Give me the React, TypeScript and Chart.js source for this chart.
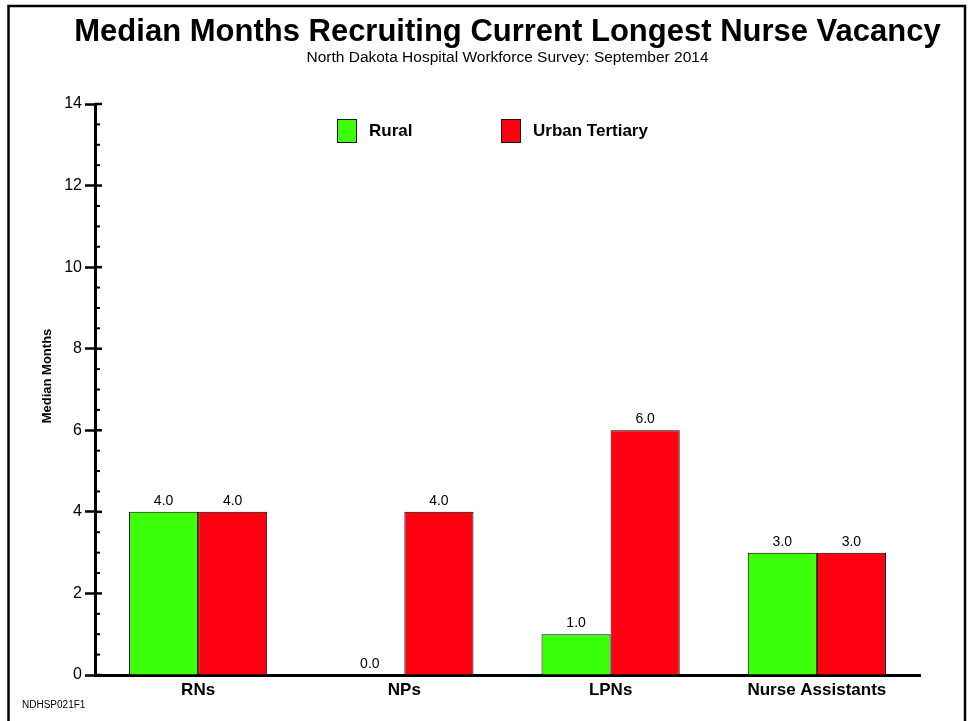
import React, { useEffect, useRef } from "react";
import { Chart, registerables } from "chart.js";

Chart.register(...registerables);

const categories = ["RNs", "NPs", "LPNs", "Nurse Assistants"];
const seriesNames = ["Rural", "Urban Tertiary"];
const ruralValues = [4.0, 0.0, 1.0, 3.0];
const urbanValues = [4.0, 4.0, 6.0, 3.0];
const seriesColors = ["#3cff0a", "#ff0010"];
const yTickStep = 2;
const yMax = 14;
const minorStep = 0.5;

const TITLE = "Median Months Recruiting Current Longest Nurse Vacancy";
const SUBTITLE = "North Dakota Hospital Workforce Survey: September 2014";
const Y_TITLE = "Median Months";
const FOOTNOTE = "NDHSP021F1";
const FONT = "'Liberation Sans', Arial, Helvetica, sans-serif";

const decorPlugin = {
  id: "decor",
  afterDraw(chart: any) {
    const ctx = chart.ctx;
    const area = chart.chartArea;
    const y = chart.scales.y;
    ctx.save();
    // outer frame
    ctx.strokeStyle = "#000";
    ctx.lineWidth = 2.5;
    ctx.beginPath();
    ctx.moveTo(8.5, 730);
    ctx.lineTo(8.5, 6);
    ctx.lineTo(965, 6);
    ctx.lineTo(965, 730);
    ctx.stroke();

    // titles
    const cx = (area.left + area.right) / 2;
    ctx.fillStyle = "#000";
    ctx.textAlign = "center";
    ctx.textBaseline = "alphabetic";
    ctx.font = `bold 31px ${FONT}`;
    ctx.fillText(TITLE, cx, 41);
    ctx.font = `15.5px ${FONT}`;
    ctx.fillText(SUBTITLE, cx, 62);

    // y axis title
    ctx.save();
    ctx.translate(47, 376);
    ctx.rotate(-Math.PI / 2);
    ctx.font = `bold 13px ${FONT}`;
    ctx.textBaseline = "middle";
    ctx.fillText(Y_TITLE, 0, 0);
    ctx.restore();

    // footnote
    ctx.textAlign = "left";
    ctx.textBaseline = "middle";
    ctx.font = `10px ${FONT}`;
    ctx.fillText(FOOTNOTE, 22, 705);

    // inner ticks
    ctx.strokeStyle = "#000";
    for (let v = 0; v <= yMax + 1e-9; v += minorStep) {
      const py = y.getPixelForValue(v);
      const major = Math.abs(v / yTickStep - Math.round(v / yTickStep)) < 1e-6;
      ctx.lineWidth = major ? 2.5 : 2;
      ctx.beginPath();
      ctx.moveTo(area.left, py);
      ctx.lineTo(area.left + (major ? 7 : 5), py);
      ctx.stroke();
    }

    // data labels
    ctx.textAlign = "center";
    ctx.textBaseline = "alphabetic";
    ctx.font = `14px ${FONT}`;
    chart.data.datasets.forEach((ds: any, di: number) => {
      const meta = chart.getDatasetMeta(di);
      meta.data.forEach((bar: any, i: number) => {
        ctx.fillText(Number(ds.data[i]).toFixed(1), bar.x, bar.y - 7);
      });
    });

    // legend
    const legendX = [337, 501];
    chart.data.datasets.forEach((ds: any, di: number) => {
      const lx = legendX[di];
      ctx.fillStyle = ds.backgroundColor;
      ctx.fillRect(lx, 119, 19, 23);
      ctx.strokeStyle = "#111";
      ctx.lineWidth = 1;
      ctx.strokeRect(lx + 0.5, 119.5, 19, 23);
      ctx.fillStyle = "#000";
      ctx.textAlign = "left";
      ctx.textBaseline = "middle";
      ctx.font = `bold 17px ${FONT}`;
      ctx.fillText(ds.label, lx + 32, 131);
    });
    ctx.restore();
  },
};

export default function App() {
  const canvasRef = useRef<HTMLCanvasElement | null>(null);

  useEffect(() => {
    const canvas = canvasRef.current;
    if (!canvas) return;
    const chart = new Chart(canvas, {
      type: "bar",
      data: {
        labels: categories,
        datasets: [
          {
            label: seriesNames[0],
            data: ruralValues,
            backgroundColor: seriesColors[0],
            borderColor: "#000",
            borderWidth: 1,
            categoryPercentage: 0.67,
            barPercentage: 1,
          },
          {
            label: seriesNames[1],
            data: urbanValues,
            backgroundColor: seriesColors[1],
            borderColor: "#000",
            borderWidth: 1,
            categoryPercentage: 0.67,
            barPercentage: 1,
          },
        ],
      },
      options: {
        animation: false,
        responsive: false,
        devicePixelRatio: 1,
        layout: { padding: { top: 104, right: 49, bottom: 0, left: 0 } },
        plugins: {
          legend: { display: false },
          title: { display: false },
          tooltip: { enabled: false },
        },
        scales: {
          x: {
            type: "category",
            offset: true,
            grid: { display: false, drawTicks: false },
            border: { display: true, color: "#000", width: 3 },
            ticks: {
              color: "#000",
              font: { family: FONT, size: 17, weight: "bold" },
              padding: 5,
              maxRotation: 0,
              autoSkip: false,
            },
            afterFit(scale: any) {
              scale.height = 46;
            },
          },
          y: {
            min: 0,
            max: yMax,
            ticks: {
              stepSize: yTickStep,
              color: "#000",
              font: { family: FONT, size: 16 },
              padding: 3,
            },
            grid: {
              display: true,
              drawOnChartArea: false,
              drawTicks: true,
              tickLength: 10,
              tickWidth: 2.5,
              tickColor: "#000",
              color: "#000",
            },
            border: { display: true, color: "#000", width: 3 },
            afterFit(scale: any) {
              scale.width = 95;
            },
          },
        },
      },
      plugins: [decorPlugin],
    });
    return () => chart.destroy();
  }, []);

  return (
    <div style={{ position: "fixed", left: 0, top: 0, width: 969, height: 721, background: "#fff" }}>
      <canvas ref={canvasRef} width={969} height={721} style={{ display: "block" }} />
    </div>
  );
}
